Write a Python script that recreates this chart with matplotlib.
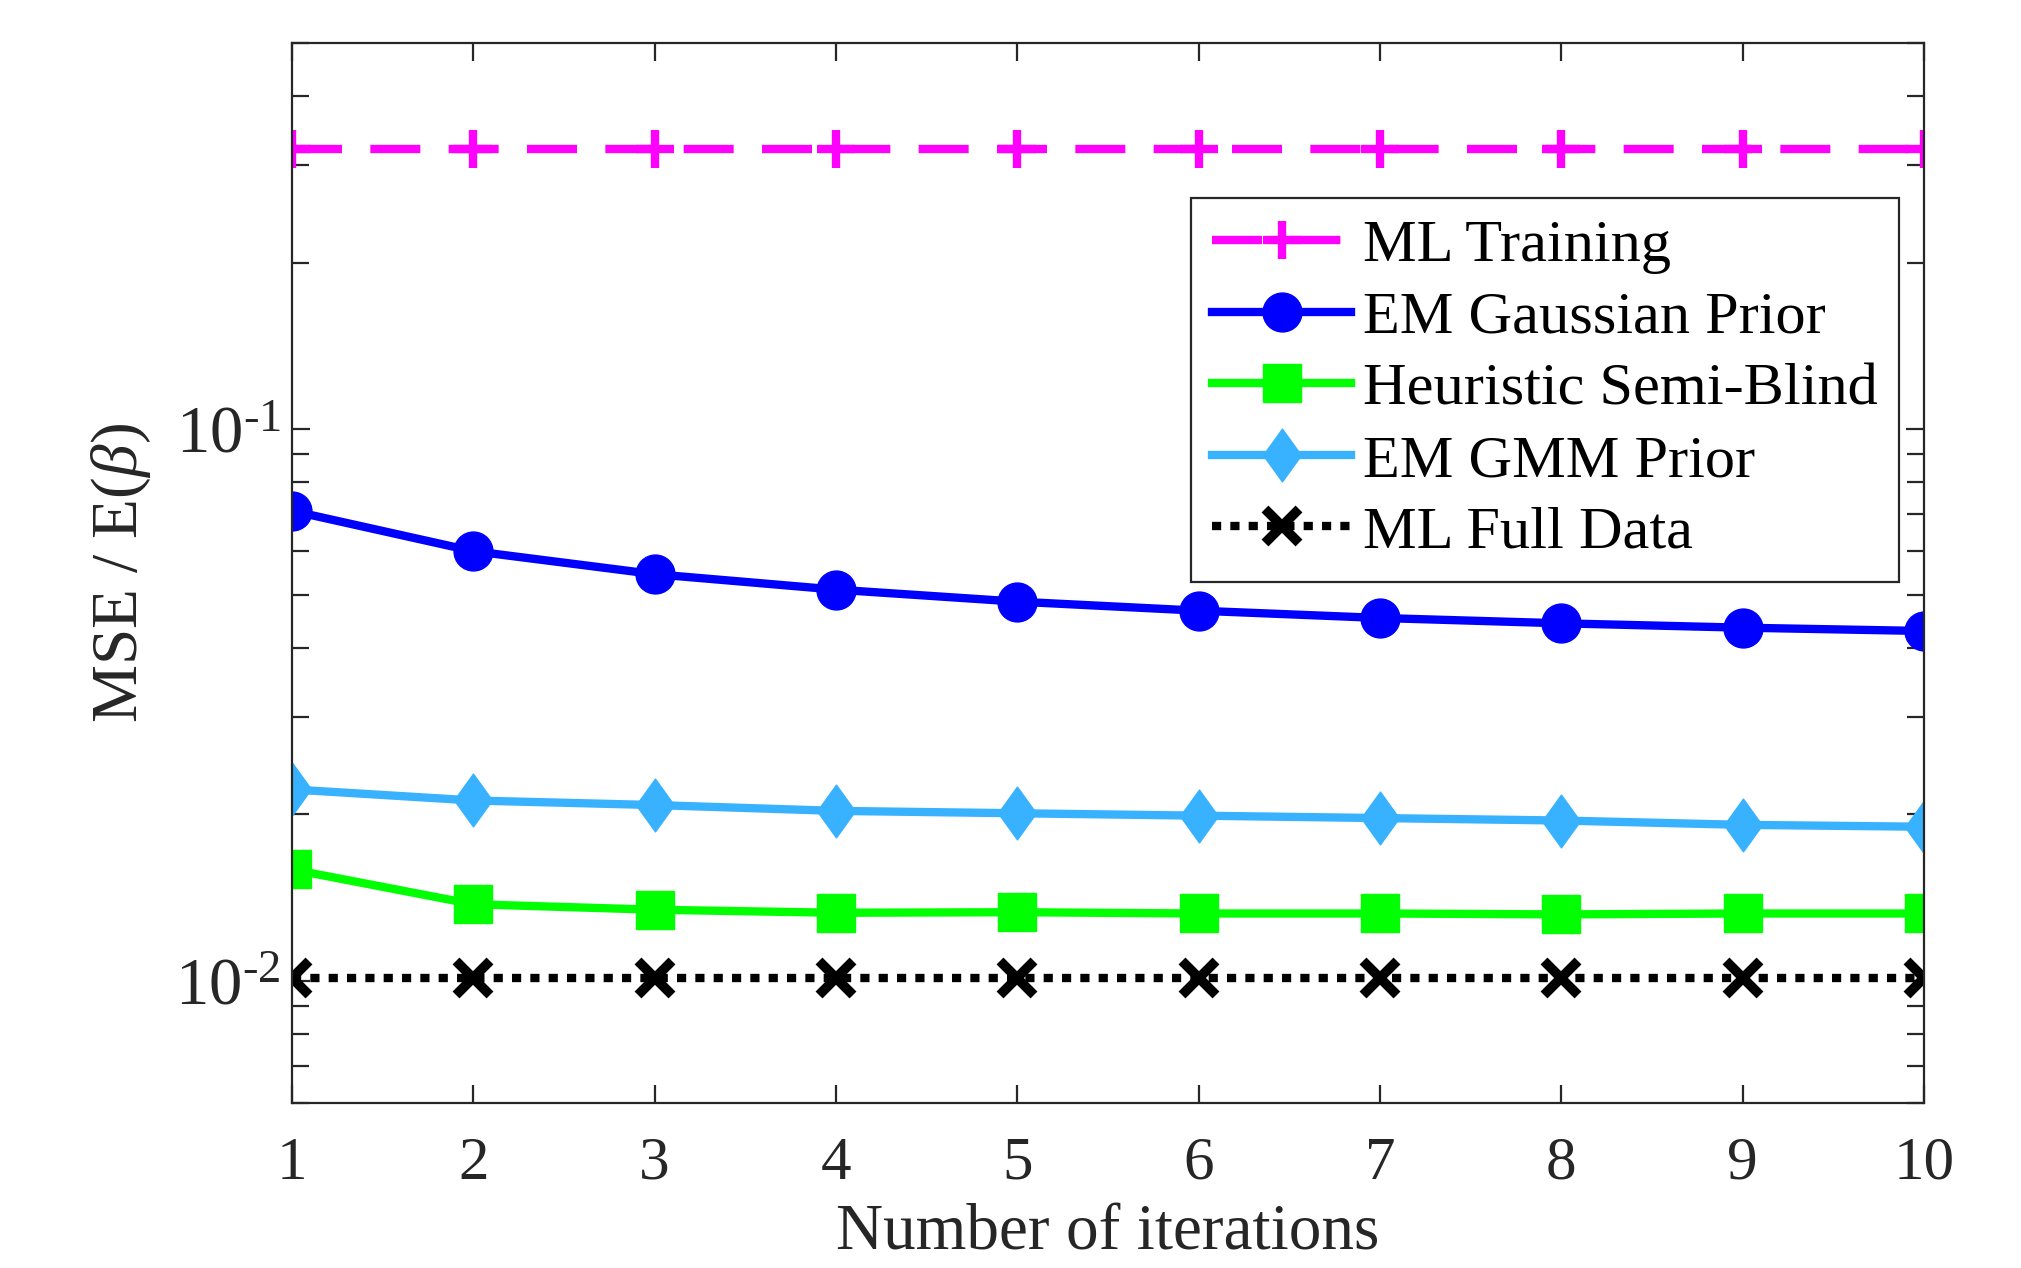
import matplotlib
matplotlib.use("Agg")
import matplotlib.pyplot as plt
from matplotlib.path import Path
from matplotlib.ticker import LogLocator, NullFormatter, FixedLocator, FuncFormatter
import math

plt.rcParams['font.family'] = ['Liberation Serif', 'DejaVu Serif']
plt.rcParams['mathtext.fontset'] = 'custom'
plt.rcParams['mathtext.rm'] = 'Liberation Serif'
plt.rcParams['mathtext.it'] = 'Liberation Serif:italic'
plt.rcParams['mathtext.bf'] = 'Liberation Serif:bold'

# ---- data ----
iterations = [1, 2, 3, 4, 5, 6, 7, 8, 9, 10]
ml_training = [0.321] * 10
em_gaussian = [0.0710, 0.0600, 0.0545, 0.0511, 0.0486, 0.0468, 0.0454, 0.0444, 0.0436, 0.0430]
heuristic = [0.0159, 0.01375, 0.01344, 0.01327, 0.0133, 0.01323, 0.01323, 0.01318, 0.01323, 0.01323]
em_gmm = [0.0222, 0.0212, 0.0208, 0.0203, 0.0201, 0.0199, 0.0197, 0.0195, 0.01915, 0.0190]
ml_full = [0.0101] * 10
labels = ["ML Training", "EM Gaussian Prior", "Heuristic Semi-Blind", "EM GMM Prior", "ML Full Data"]
xlabel = "Number of iterations"
ylabel = r"MSE / E($\beta$)"

fig = plt.figure(figsize=(20.21, 12.68), dpi=100)
ax = fig.add_axes([292/2021, 1 - 1103/1268, (1924-292)/2021, (1103-43)/1268])

diamond = Path([(0, 1), (0.72, 0), (0, -1), (-0.72, 0), (0, 1)],
               [Path.MOVETO, Path.LINETO, Path.LINETO, Path.LINETO, Path.CLOSEPOLY])

lw = 6
ax.plot(iterations, ml_training, color='#FF00FF', lw=lw, dashes=(6, 3.4), marker='+',
        ms=28, mew=6, label=labels[0], dash_capstyle='butt')
ax.plot(iterations, em_gaussian, color='#0000FF', lw=lw, marker='o', ms=28,
        label=labels[1])
ax.plot(iterations, heuristic, color='#00FF00', lw=lw, marker='s', ms=27,
        label=labels[2])
ax.plot(iterations, em_gmm, color='#38B2FF', lw=lw, marker=diamond, ms=38,
        label=labels[3])
ax.plot(iterations, ml_full, color='black', lw=lw, dashes=(1.1, 1.1), marker='x',
        ms=24, mew=7, label=labels[4], dash_capstyle='butt')

ax.set_yscale('log')
ax.set_xlim(1, 10)
ax.set_ylim(0.006, 0.5)
ax.xaxis.set_major_locator(FixedLocator(iterations))
ax.yaxis.set_major_locator(LogLocator(base=10, numticks=10))
ax.yaxis.set_minor_locator(LogLocator(base=10, subs=range(2, 10), numticks=20))
ax.yaxis.set_minor_formatter(NullFormatter())


def log_fmt(v, pos):
    e = int(round(math.log10(v)))
    if e < 0:
        return r'$10^{\text{-}%d}$' % (-e)
    return r'$10^{%d}$' % e


ax.yaxis.set_major_formatter(FuncFormatter(log_fmt))

tc = '#262626'
for s in ax.spines.values():
    s.set_linewidth(1.6)
    s.set_color(tc)
ax.tick_params(axis='both', which='both', direction='in', top=True, right=True,
               color=tc, width=1.6, labelcolor=tc)
ax.tick_params(axis='x', which='major', length=13, labelsize=44, pad=24)
ax.tick_params(axis='y', which='major', length=13, labelsize=48, pad=8)
ax.tick_params(axis='y', which='minor', length=12)

ax.set_xlabel(xlabel, fontsize=47, color=tc, labelpad=9)
ax.set_ylabel(ylabel, fontsize=47, color=tc, labelpad=16)

leg = ax.legend(loc='upper right', bbox_to_anchor=(0.9847, 0.854), borderaxespad=0,
                fontsize=43.5, handlelength=2.3, handletextpad=0.2, labelspacing=0.27,
                borderpad=0.35, fancybox=False, framealpha=1, edgecolor=tc)
leg.get_frame().set_linewidth(1.6)

fig.savefig("out.png", dpi=100, facecolor='white')
